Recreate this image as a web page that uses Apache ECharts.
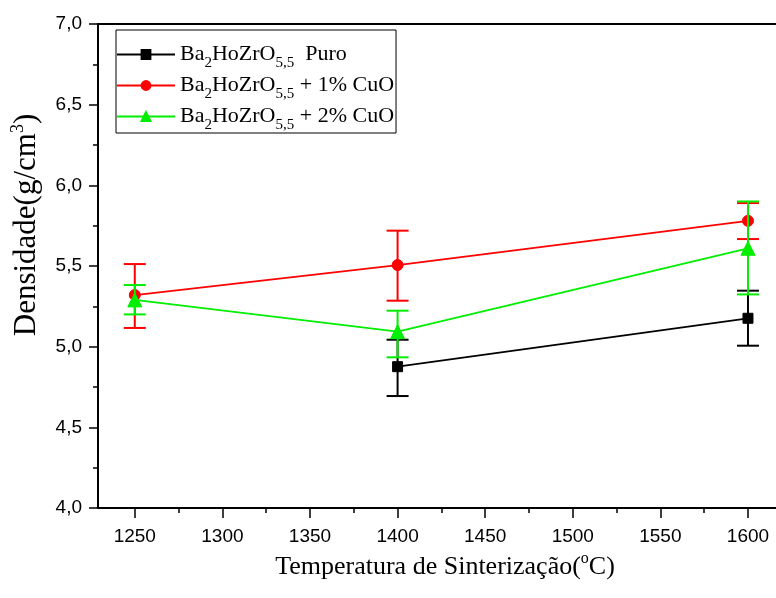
<!DOCTYPE html>
<html>
<head>
<meta charset="utf-8">
<script src="https://cdn.jsdelivr.net/npm/echarts@6/dist/echarts.min.js"></script>
<style>
  html, body { margin: 0; padding: 0; background: #fff; }
  #chart { width: 776px; height: 598px; }
</style>
</head>
<body>
<div id="chart"></div>
<script>
// temperatura de sinterização (°C)
var temps = [1250, 1400, 1600];

// densidade (g/cm3)
var puro = [null, 4.876, 5.176];
var puroLow = [null, 4.694, 5.006];
var puroHigh = [null, 5.043, 5.347];

var cu1 = [5.32, 5.506, 5.78];
var cu1Low = [5.116, 5.285, 5.667];
var cu1High = [5.512, 5.719, 5.89];

var cu2 = [5.29, 5.093, 5.61];
var cu2Low = [5.20, 4.934, 5.324];
var cu2High = [5.382, 5.223, 5.90];

var xMajorTicks = [1250, 1300, 1350, 1400, 1450, 1500, 1550, 1600];
var xMinorTicks = [1275, 1325, 1375, 1425, 1475, 1525, 1575];

var names = ['Ba2HoZrO5,5 Puro', 'Ba2HoZrO5,5 + 1% CuO', 'Ba2HoZrO5,5 + 2% CuO'];
var richNames = [
  '{n|Ba}{s|2}{n|HoZrO}{s|5,5}{n|  Puro}',
  '{n|Ba}{s|2}{n|HoZrO}{s|5,5}{n| + 1% CuO}',
  '{n|Ba}{s|2}{n|HoZrO}{s|5,5}{n| + 2% CuO}'
];
var colors = ['#000000', '#ff0000', '#00ee00'];
var symbols = ['rect', 'circle', 'triangle'];
var symbolSizes = [10, 11, 14];

function pairs(vals) {
  var out = [];
  temps.forEach(function (t, i) {
    if (vals[i] != null) out.push([t, vals[i]]);
  });
  return out;
}

function bars(low, high) {
  var out = [];
  temps.forEach(function (t, i) {
    if (low[i] != null) out.push([t, low[i], high[i]]);
  });
  return out;
}

function errorBar(color) {
  return function (params, api) {
    var x = api.value(0);
    var lo = api.coord([x, api.value(1)]);
    var hi = api.coord([x, api.value(2)]);
    var w = 11;
    var style = { stroke: color, lineWidth: 2 };
    return {
      type: 'group',
      children: [
        { type: 'line', shape: { x1: lo[0], y1: lo[1], x2: hi[0], y2: hi[1] }, style: style },
        { type: 'line', shape: { x1: lo[0] - w, y1: lo[1], x2: lo[0] + w, y2: lo[1] }, style: style },
        { type: 'line', shape: { x1: hi[0] - w, y1: hi[1], x2: hi[0] + w, y2: hi[1] }, style: style }
      ]
    };
  };
}

var values = [puro, cu1, cu2];
var lows = [puroLow, cu1Low, cu2Low];
var highs = [puroHigh, cu1High, cu2High];

var series = [];
values.forEach(function (vals, i) {
  series.push({
    name: 'err' + i,
    type: 'custom',
    renderItem: errorBar(colors[i]),
    data: bars(lows[i], highs[i]),
    encode: { x: 0, y: [1, 2] },
    z: 2 + i * 2
  });
  series.push({
    name: names[i],
    type: 'line',
    data: pairs(vals),
    symbol: symbols[i],
    symbolSize: symbolSizes[i],
    showAllSymbol: true,
    lineStyle: { color: colors[i], width: 1.8 },
    itemStyle: { color: colors[i], borderColor: colors[i], borderWidth: 1 },
    z: 3 + i * 2
  });
});

var chart = echarts.init(document.getElementById('chart'), null, { renderer: 'canvas' });

var labelFont = { fontFamily: 'Liberation Sans', fontSize: 19, color: '#000' };

chart.setOption({
  animation: false,
  backgroundColor: '#fff',
  grid: { left: 98, top: 24, right: 0, height: 484, containLabel: false },
  legend: {
    data: names,
    orient: 'vertical',
    left: 116,
    top: 30,
    padding: [8, 2, 0, 0],
    itemGap: -2,
    itemWidth: 58,
    itemHeight: 11,
    backgroundColor: '#fff',
    borderColor: '#000',
    borderWidth: 1,
    formatter: function (name) {
      return richNames[names.indexOf(name)];
    },
    textStyle: {
      fontFamily: 'Liberation Serif',
      fontSize: 22,
      color: '#000',
      rich: {
        n: { fontFamily: 'Liberation Serif', fontSize: 22, color: '#000', lineHeight: 26 },
        s: { fontFamily: 'Liberation Serif', fontSize: 15, color: '#000', lineHeight: 26, padding: [18, 0, 0, 0] }
      }
    }
  },
  xAxis: [
    {
      type: 'value',
      min: 1229,
      max: 1616,
      position: 'bottom',
      name: 'Temperatura de Sinterização({sup|o}C)',
      nameLocation: 'middle',
      nameGap: 35,
      nameTextStyle: {
        fontFamily: 'Liberation Serif',
        fontSize: 26,
        color: '#000',
        padding: [0, 0, 0, 16],
        rich: {
          sup: { fontFamily: 'Liberation Serif', fontSize: 16, color: '#000', padding: [0, 0, 16, 0] }
        }
      },
      axisLine: { show: true, lineStyle: { color: '#000', width: 2 } },
      axisTick: { show: true, customValues: xMajorTicks, length: 10, lineStyle: { color: '#000', width: 1.5 } },
      axisLabel: Object.assign({
        customValues: xMajorTicks,
        margin: 19,
        formatter: function (v) { return String(v); }
      }, labelFont),
      splitLine: { show: false }
    },
    {
      type: 'value',
      min: 1229,
      max: 1616,
      position: 'bottom',
      axisLine: { show: false },
      axisTick: { show: true, customValues: xMinorTicks, length: 5, lineStyle: { color: '#000', width: 1.5 } },
      axisLabel: { show: false },
      splitLine: { show: false }
    },
    {
      type: 'value',
      min: 1229,
      max: 1616,
      position: 'top',
      axisLine: { show: true, lineStyle: { color: '#000', width: 2 } },
      axisTick: { show: false },
      axisLabel: { show: false },
      splitLine: { show: false }
    }
  ],
  yAxis: {
    type: 'value',
    min: 4,
    max: 7,
    interval: 0.5,
    name: 'Densidade(g/cm{sup|3})',
    nameLocation: 'middle',
    nameGap: 53,
    nameTextStyle: {
      fontFamily: 'Liberation Serif',
      fontSize: 31,
      color: '#000',
      padding: [0, 0, 0, 82],
      rich: {
        sup: { fontFamily: 'Liberation Serif', fontSize: 18, color: '#000', padding: [0, 0, 18, 0] }
      }
    },
    axisLine: { show: true, lineStyle: { color: '#000', width: 2 } },
    axisTick: { show: true, length: 9, lineStyle: { color: '#000', width: 1.5 } },
    minorTick: { show: true, splitNumber: 2, length: 5, lineStyle: { color: '#000', width: 1.5 } },
    axisLabel: Object.assign({
      margin: 16,
      formatter: function (v) { return v.toFixed(1).replace('.', ','); }
    }, labelFont),
    splitLine: { show: false },
    minorSplitLine: { show: false }
  },
  series: series
});
</script>
</body>
</html>
